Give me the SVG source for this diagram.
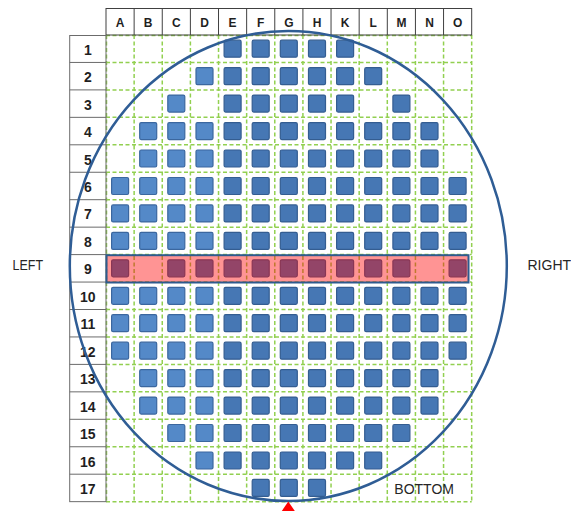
<svg xmlns="http://www.w3.org/2000/svg" xmlns:xlink="http://www.w3.org/1999/xlink" width="571" height="511" viewBox="0 0 571 511">
<style>
.grid{fill:none;stroke:#92D050;stroke-width:1.5;stroke-dasharray:4 2.5}
.hdr{fill:none;stroke:#404040;stroke-width:1}
.rl{fill:none;stroke:#6b6b6b;stroke-width:1}
.col{font-family:"Liberation Sans",Arial,sans-serif;font-weight:bold;font-size:12px;fill:#1f1f1f;text-anchor:middle}
.row{font-family:"Liberation Sans",Arial,sans-serif;font-weight:bold;font-size:14px;fill:#1f1f1f;text-anchor:middle}
.lbl{font-family:"Liberation Sans",Arial,sans-serif;font-size:14px;fill:#262626}
.a{fill:#5489C8;stroke:#3B679F;stroke-width:1.2}
.b{fill:#4677B4;stroke:#345D91;stroke-width:1.2}
</style>
<defs>
<rect id="d" width="17" height="17" rx="1.5"/>
</defs>
<rect width="571" height="511" fill="#ffffff"/>
<g id="grid">
<path class="grid" d="M106.5 35V501.65M134.13 35V501.65M162.26 35V501.65M190.39 35V501.65M218.52 35V501.65M246.65 35V501.65M274.78 35V501.65M302.91 35V501.65M331.04 35V501.65M359.17 35V501.65M387.3 35V501.65M415.43 35V501.65M443.56 35V501.65M471.69 35V501.65
M106 35.5H471.69M106 62.45H471.69M106 89.9H471.69M106 117.35H471.69M106 144.8H471.69M106 172.25H471.69M106 199.7H471.69M106 227.15H471.69M106 254.6H471.69M106 282.05H471.69M106 309.5H471.69M106 336.95H471.69M106 364.4H471.69M106 391.85H471.69M106 419.3H471.69M106 446.75H471.69M106 474.2H471.69M106 501.65H471.69"/>
</g>
<g id="header">
<rect class="hdr" x="106" y="8.5" width="365.69" height="26.5"/>
<path class="hdr" d="M134.13 8.5V35M162.26 8.5V35M190.39 8.5V35M218.52 8.5V35M246.65 8.5V35M274.78 8.5V35M302.91 8.5V35M331.04 8.5V35M359.17 8.5V35M387.3 8.5V35M415.43 8.5V35M443.56 8.5V35"/>
<text class="col" x="120.1" y="26.5">A</text>
<text class="col" x="148.2" y="26.5">B</text>
<text class="col" x="176.3" y="26.5">C</text>
<text class="col" x="204.5" y="26.5">D</text>
<text class="col" x="232.6" y="26.5">E</text>
<text class="col" x="260.7" y="26.5">F</text>
<text class="col" x="288.8" y="26.5">G</text>
<text class="col" x="317.0" y="26.5">H</text>
<text class="col" x="345.1" y="26.5">K</text>
<text class="col" x="373.2" y="26.5">L</text>
<text class="col" x="401.4" y="26.5">M</text>
<text class="col" x="429.5" y="26.5">N</text>
<text class="col" x="457.6" y="26.5">O</text>
</g>
<g id="row-labels">
<rect class="rl" x="69.7" y="35.5" width="36.3" height="466.15"/>
<path class="rl" d="M69.7 62.45H106M69.7 89.9H106M69.7 117.35H106M69.7 144.8H106M69.7 172.25H106M69.7 199.7H106M69.7 227.15H106M69.7 254.6H106M69.7 282.05H106M69.7 309.5H106M69.7 336.95H106M69.7 364.4H106M69.7 391.85H106M69.7 419.3H106M69.7 446.75H106M69.7 474.2H106"/>
<text class="row" x="87.8" y="54.7">1</text>
<text class="row" x="87.8" y="82.2">2</text>
<text class="row" x="87.8" y="109.6">3</text>
<text class="row" x="87.8" y="137.1">4</text>
<text class="row" x="87.8" y="164.5">5</text>
<text class="row" x="87.8" y="192.0">6</text>
<text class="row" x="87.8" y="219.4">7</text>
<text class="row" x="87.8" y="246.9">8</text>
<text class="row" x="87.8" y="274.3">9</text>
<text class="row" x="87.8" y="301.8">10</text>
<text class="row" x="87.8" y="329.2">11</text>
<text class="row" x="87.8" y="356.7">12</text>
<text class="row" x="87.8" y="384.1">13</text>
<text class="row" x="87.8" y="411.6">14</text>
<text class="row" x="87.8" y="439.0">15</text>
<text class="row" x="87.8" y="466.5">16</text>
<text class="row" x="87.8" y="493.9">17</text>
</g>
<g id="dies">
<!-- row 1 -->
<use href="#d" class="b" x="224.1" y="40.2"/><use href="#d" class="b" x="252.2" y="40.2"/><use href="#d" class="b" x="280.3" y="40.2"/><use href="#d" class="b" x="308.5" y="40.2"/><use href="#d" class="b" x="336.6" y="40.2"/>
<!-- row 2 -->
<use href="#d" class="a" x="196.0" y="67.7"/><use href="#d" class="b" x="224.1" y="67.7"/><use href="#d" class="b" x="252.2" y="67.7"/><use href="#d" class="b" x="280.3" y="67.7"/><use href="#d" class="b" x="308.5" y="67.7"/><use href="#d" class="b" x="336.6" y="67.7"/><use href="#d" class="b" x="364.7" y="67.7"/>
<!-- row 3 -->
<use href="#d" class="a" x="167.8" y="95.1"/><use href="#d" class="b" x="224.1" y="95.1"/><use href="#d" class="b" x="252.2" y="95.1"/><use href="#d" class="b" x="280.3" y="95.1"/><use href="#d" class="b" x="308.5" y="95.1"/><use href="#d" class="b" x="336.6" y="95.1"/><use href="#d" class="b" x="392.9" y="95.1"/>
<!-- row 4 -->
<use href="#d" class="a" x="139.7" y="122.6"/><use href="#d" class="a" x="167.8" y="122.6"/><use href="#d" class="a" x="196.0" y="122.6"/><use href="#d" class="b" x="224.1" y="122.6"/><use href="#d" class="b" x="252.2" y="122.6"/><use href="#d" class="b" x="280.3" y="122.6"/><use href="#d" class="b" x="308.5" y="122.6"/><use href="#d" class="b" x="336.6" y="122.6"/><use href="#d" class="b" x="364.7" y="122.6"/><use href="#d" class="b" x="392.9" y="122.6"/><use href="#d" class="b" x="421.0" y="122.6"/>
<!-- row 5 -->
<use href="#d" class="a" x="139.7" y="150.0"/><use href="#d" class="a" x="167.8" y="150.0"/><use href="#d" class="a" x="196.0" y="150.0"/><use href="#d" class="b" x="224.1" y="150.0"/><use href="#d" class="b" x="252.2" y="150.0"/><use href="#d" class="b" x="280.3" y="150.0"/><use href="#d" class="b" x="308.5" y="150.0"/><use href="#d" class="b" x="336.6" y="150.0"/><use href="#d" class="b" x="364.7" y="150.0"/><use href="#d" class="b" x="392.9" y="150.0"/><use href="#d" class="b" x="421.0" y="150.0"/>
<!-- row 6 -->
<use href="#d" class="a" x="111.6" y="177.5"/><use href="#d" class="a" x="139.7" y="177.5"/><use href="#d" class="a" x="167.8" y="177.5"/><use href="#d" class="a" x="196.0" y="177.5"/><use href="#d" class="b" x="224.1" y="177.5"/><use href="#d" class="b" x="252.2" y="177.5"/><use href="#d" class="b" x="280.3" y="177.5"/><use href="#d" class="b" x="308.5" y="177.5"/><use href="#d" class="b" x="336.6" y="177.5"/><use href="#d" class="b" x="364.7" y="177.5"/><use href="#d" class="b" x="392.9" y="177.5"/><use href="#d" class="b" x="421.0" y="177.5"/><use href="#d" class="b" x="449.1" y="177.5"/>
<!-- row 7 -->
<use href="#d" class="a" x="111.6" y="204.9"/><use href="#d" class="a" x="139.7" y="204.9"/><use href="#d" class="a" x="167.8" y="204.9"/><use href="#d" class="a" x="196.0" y="204.9"/><use href="#d" class="b" x="224.1" y="204.9"/><use href="#d" class="b" x="252.2" y="204.9"/><use href="#d" class="b" x="280.3" y="204.9"/><use href="#d" class="b" x="308.5" y="204.9"/><use href="#d" class="b" x="336.6" y="204.9"/><use href="#d" class="b" x="364.7" y="204.9"/><use href="#d" class="b" x="392.9" y="204.9"/><use href="#d" class="b" x="421.0" y="204.9"/><use href="#d" class="b" x="449.1" y="204.9"/>
<!-- row 8 -->
<use href="#d" class="a" x="111.6" y="232.4"/><use href="#d" class="a" x="139.7" y="232.4"/><use href="#d" class="a" x="167.8" y="232.4"/><use href="#d" class="a" x="196.0" y="232.4"/><use href="#d" class="b" x="224.1" y="232.4"/><use href="#d" class="b" x="252.2" y="232.4"/><use href="#d" class="b" x="280.3" y="232.4"/><use href="#d" class="b" x="308.5" y="232.4"/><use href="#d" class="b" x="336.6" y="232.4"/><use href="#d" class="b" x="364.7" y="232.4"/><use href="#d" class="b" x="392.9" y="232.4"/><use href="#d" class="b" x="421.0" y="232.4"/><use href="#d" class="b" x="449.1" y="232.4"/>
<!-- row 9 -->
<use href="#d" class="b" x="111.6" y="259.8"/><use href="#d" class="b" x="167.8" y="259.8"/><use href="#d" class="b" x="196.0" y="259.8"/><use href="#d" class="b" x="224.1" y="259.8"/><use href="#d" class="b" x="252.2" y="259.8"/><use href="#d" class="b" x="280.3" y="259.8"/><use href="#d" class="b" x="308.5" y="259.8"/><use href="#d" class="b" x="336.6" y="259.8"/><use href="#d" class="b" x="364.7" y="259.8"/><use href="#d" class="b" x="392.9" y="259.8"/><use href="#d" class="b" x="449.1" y="259.8"/>
<!-- row 10 -->
<use href="#d" class="a" x="111.6" y="287.3"/><use href="#d" class="a" x="139.7" y="287.3"/><use href="#d" class="a" x="167.8" y="287.3"/><use href="#d" class="a" x="196.0" y="287.3"/><use href="#d" class="b" x="224.1" y="287.3"/><use href="#d" class="b" x="252.2" y="287.3"/><use href="#d" class="b" x="280.3" y="287.3"/><use href="#d" class="b" x="308.5" y="287.3"/><use href="#d" class="b" x="336.6" y="287.3"/><use href="#d" class="b" x="364.7" y="287.3"/><use href="#d" class="b" x="392.9" y="287.3"/><use href="#d" class="b" x="421.0" y="287.3"/><use href="#d" class="b" x="449.1" y="287.3"/>
<!-- row 11 -->
<use href="#d" class="a" x="111.6" y="314.7"/><use href="#d" class="a" x="139.7" y="314.7"/><use href="#d" class="a" x="167.8" y="314.7"/><use href="#d" class="a" x="196.0" y="314.7"/><use href="#d" class="b" x="224.1" y="314.7"/><use href="#d" class="b" x="252.2" y="314.7"/><use href="#d" class="b" x="280.3" y="314.7"/><use href="#d" class="b" x="308.5" y="314.7"/><use href="#d" class="b" x="336.6" y="314.7"/><use href="#d" class="b" x="364.7" y="314.7"/><use href="#d" class="b" x="392.9" y="314.7"/><use href="#d" class="b" x="421.0" y="314.7"/><use href="#d" class="b" x="449.1" y="314.7"/>
<!-- row 12 -->
<use href="#d" class="a" x="111.6" y="342.2"/><use href="#d" class="a" x="139.7" y="342.2"/><use href="#d" class="a" x="167.8" y="342.2"/><use href="#d" class="a" x="196.0" y="342.2"/><use href="#d" class="b" x="224.1" y="342.2"/><use href="#d" class="b" x="252.2" y="342.2"/><use href="#d" class="b" x="280.3" y="342.2"/><use href="#d" class="b" x="308.5" y="342.2"/><use href="#d" class="b" x="336.6" y="342.2"/><use href="#d" class="b" x="364.7" y="342.2"/><use href="#d" class="b" x="392.9" y="342.2"/><use href="#d" class="b" x="421.0" y="342.2"/><use href="#d" class="b" x="449.1" y="342.2"/>
<!-- row 13 -->
<use href="#d" class="a" x="139.7" y="369.6"/><use href="#d" class="a" x="167.8" y="369.6"/><use href="#d" class="a" x="196.0" y="369.6"/><use href="#d" class="b" x="224.1" y="369.6"/><use href="#d" class="b" x="252.2" y="369.6"/><use href="#d" class="b" x="280.3" y="369.6"/><use href="#d" class="b" x="308.5" y="369.6"/><use href="#d" class="b" x="336.6" y="369.6"/><use href="#d" class="b" x="364.7" y="369.6"/><use href="#d" class="b" x="392.9" y="369.6"/><use href="#d" class="b" x="421.0" y="369.6"/>
<!-- row 14 -->
<use href="#d" class="a" x="139.7" y="397.1"/><use href="#d" class="a" x="167.8" y="397.1"/><use href="#d" class="a" x="196.0" y="397.1"/><use href="#d" class="b" x="224.1" y="397.1"/><use href="#d" class="b" x="252.2" y="397.1"/><use href="#d" class="b" x="280.3" y="397.1"/><use href="#d" class="b" x="308.5" y="397.1"/><use href="#d" class="b" x="336.6" y="397.1"/><use href="#d" class="b" x="364.7" y="397.1"/><use href="#d" class="b" x="392.9" y="397.1"/><use href="#d" class="b" x="421.0" y="397.1"/>
<!-- row 15 -->
<use href="#d" class="a" x="167.8" y="424.5"/><use href="#d" class="a" x="196.0" y="424.5"/><use href="#d" class="b" x="224.1" y="424.5"/><use href="#d" class="b" x="252.2" y="424.5"/><use href="#d" class="b" x="280.3" y="424.5"/><use href="#d" class="b" x="308.5" y="424.5"/><use href="#d" class="b" x="336.6" y="424.5"/><use href="#d" class="b" x="364.7" y="424.5"/><use href="#d" class="b" x="392.9" y="424.5"/>
<!-- row 16 -->
<use href="#d" class="a" x="196.0" y="452.0"/><use href="#d" class="b" x="224.1" y="452.0"/><use href="#d" class="b" x="252.2" y="452.0"/><use href="#d" class="b" x="280.3" y="452.0"/><use href="#d" class="b" x="308.5" y="452.0"/><use href="#d" class="b" x="336.6" y="452.0"/><use href="#d" class="b" x="364.7" y="452.0"/>
<!-- row 17 -->
<use href="#d" class="b" x="252.2" y="479.4"/><use href="#d" class="b" x="280.3" y="479.4"/><use href="#d" class="b" x="308.5" y="479.4"/>
</g>
<g id="highlight-row-9">
<rect x="106.5" y="255.2" width="362" height="27.3" fill="#FF0000" fill-opacity="0.42"/>
<rect x="106.5" y="255.2" width="362" height="27.3" fill="none" stroke="#2E5B8E" stroke-width="2"/>
</g>
<g id="wafer">
<ellipse cx="288.3" cy="266" rx="218.5" ry="235" fill="none" stroke="#2F5D95" stroke-width="2.5"/>
<polygon points="288.3,501.5 281.8,511 294.8,511" fill="#FF0000"/>
</g>
<g id="labels">
<text class="lbl" x="12.5" y="270" textLength="30.5" lengthAdjust="spacingAndGlyphs">LEFT</text>
<text class="lbl" x="527.5" y="269.5">RIGHT</text>
<text class="lbl" x="394.3" y="494.3">BOTTOM</text>
</g>
</svg>
